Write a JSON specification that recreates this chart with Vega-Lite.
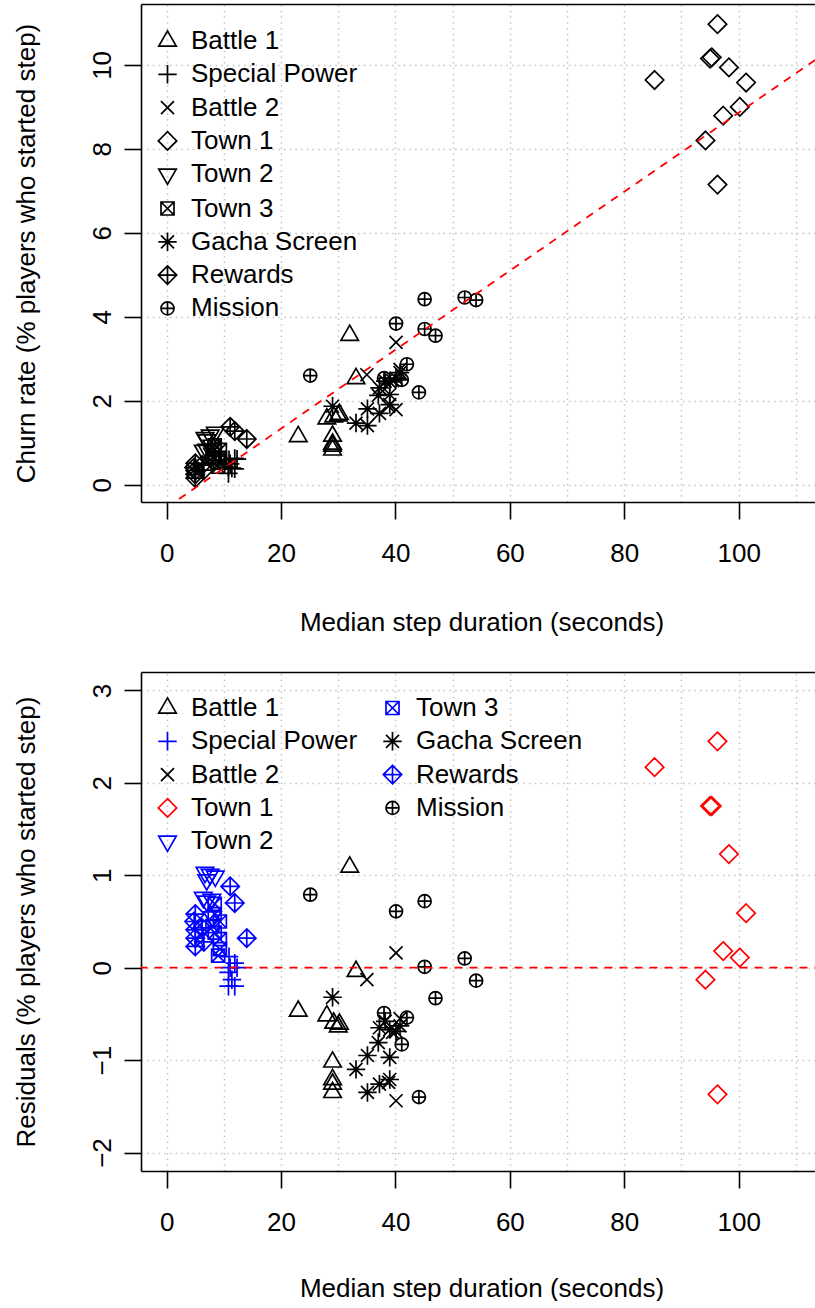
{
  "$schema": "https://vega.github.io/schema/vega-lite/v6.json",
  "padding": {"left": 12, "top": 4, "right": 0, "bottom": 0},
  "background": "white",
  "datasets": {
    "steps": [
      {"step": "Battle 1", "dur": 32.0, "churn": 3.56, "resid": 1.09},
      {"step": "Battle 1", "dur": 33.1, "churn": 2.53, "resid": -0.04},
      {"step": "Battle 1", "dur": 23.0, "churn": 1.15, "resid": -0.47},
      {"step": "Battle 1", "dur": 28.0, "churn": 1.57, "resid": -0.52},
      {"step": "Battle 1", "dur": 29.2, "churn": 1.62, "resid": -0.60},
      {"step": "Battle 1", "dur": 30.2, "churn": 1.68, "resid": -0.61},
      {"step": "Battle 1", "dur": 30.0, "churn": 1.64, "resid": -0.64},
      {"step": "Battle 1", "dur": 29.0, "churn": 1.16, "resid": -1.02},
      {"step": "Battle 1", "dur": 29.0, "churn": 0.97, "resid": -1.21},
      {"step": "Battle 1", "dur": 29.0, "churn": 0.92, "resid": -1.26},
      {"step": "Battle 1", "dur": 29.0, "churn": 0.83, "resid": -1.35},
      {"step": "Special Power", "dur": 10.9, "churn": 0.60, "resid": 0.12},
      {"step": "Special Power", "dur": 11.9, "churn": 0.63, "resid": 0.05},
      {"step": "Special Power", "dur": 11.1, "churn": 0.50, "resid": 0.00},
      {"step": "Special Power", "dur": 12.3, "churn": 0.61, "resid": 0.00},
      {"step": "Special Power", "dur": 10.8, "churn": 0.42, "resid": -0.05},
      {"step": "Special Power", "dur": 11.4, "churn": 0.40, "resid": -0.13},
      {"step": "Special Power", "dur": 10.8, "churn": 0.27, "resid": -0.20},
      {"step": "Special Power", "dur": 11.9, "churn": 0.38, "resid": -0.20},
      {"step": "Battle 2", "dur": 40.1, "churn": 3.39, "resid": 0.16},
      {"step": "Battle 2", "dur": 35.0, "churn": 2.62, "resid": -0.13},
      {"step": "Battle 2", "dur": 38.8, "churn": 1.87, "resid": -1.24},
      {"step": "Battle 2", "dur": 40.1, "churn": 1.79, "resid": -1.44},
      {"step": "Battle 2", "dur": 39.5, "churn": 2.48, "resid": -0.70},
      {"step": "Battle 2", "dur": 40.8, "churn": 2.75, "resid": -0.55},
      {"step": "Town 1", "dur": 96.3, "churn": 10.97, "resid": 2.45},
      {"step": "Town 1", "dur": 95.0, "churn": 10.15, "resid": 1.75},
      {"step": "Town 1", "dur": 95.3, "churn": 10.18, "resid": 1.75},
      {"step": "Town 1", "dur": 98.3, "churn": 9.94, "resid": 1.23},
      {"step": "Town 1", "dur": 85.3, "churn": 9.64, "resid": 2.17},
      {"step": "Town 1", "dur": 101.3, "churn": 9.58, "resid": 0.59},
      {"step": "Town 1", "dur": 100.2, "churn": 9.00, "resid": 0.11},
      {"step": "Town 1", "dur": 97.3, "churn": 8.79, "resid": 0.18},
      {"step": "Town 1", "dur": 94.2, "churn": 8.20, "resid": -0.13},
      {"step": "Town 1", "dur": 96.3, "churn": 7.15, "resid": -1.37},
      {"step": "Town 2", "dur": 6.7, "churn": 1.12, "resid": 1.03},
      {"step": "Town 2", "dur": 7.6, "churn": 1.18, "resid": 1.01},
      {"step": "Town 2", "dur": 8.5, "churn": 1.25, "resid": 0.99},
      {"step": "Town 2", "dur": 7.0, "churn": 1.07, "resid": 0.95},
      {"step": "Town 2", "dur": 6.4, "churn": 0.82, "resid": 0.76},
      {"step": "Town 2", "dur": 7.0, "churn": 0.84, "resid": 0.72},
      {"step": "Town 2", "dur": 7.9, "churn": 0.94, "resid": 0.74},
      {"step": "Town 2", "dur": 8.0, "churn": 0.75, "resid": 0.55},
      {"step": "Town 3", "dur": 8.4, "churn": 0.94, "resid": 0.69},
      {"step": "Town 3", "dur": 8.4, "churn": 0.83, "resid": 0.58},
      {"step": "Town 3", "dur": 9.3, "churn": 0.83, "resid": 0.50},
      {"step": "Town 3", "dur": 8.4, "churn": 0.63, "resid": 0.38},
      {"step": "Town 3", "dur": 9.3, "churn": 0.64, "resid": 0.31},
      {"step": "Town 3", "dur": 9.3, "churn": 0.53, "resid": 0.20},
      {"step": "Town 3", "dur": 9.0, "churn": 0.43, "resid": 0.13},
      {"step": "Town 3", "dur": 8.0, "churn": 0.65, "resid": 0.45},
      {"step": "Gacha Screen", "dur": 29.0, "churn": 1.87, "resid": -0.32},
      {"step": "Gacha Screen", "dur": 35.1, "churn": 1.81, "resid": -0.95},
      {"step": "Gacha Screen", "dur": 33.1, "churn": 1.47, "resid": -1.10},
      {"step": "Gacha Screen", "dur": 35.1, "churn": 1.41, "resid": -1.35},
      {"step": "Gacha Screen", "dur": 37.0, "churn": 2.13, "resid": -0.81},
      {"step": "Gacha Screen", "dur": 37.2, "churn": 2.31, "resid": -0.65},
      {"step": "Gacha Screen", "dur": 39.0, "churn": 2.15, "resid": -0.97},
      {"step": "Gacha Screen", "dur": 39.0, "churn": 1.91, "resid": -1.21},
      {"step": "Gacha Screen", "dur": 37.2, "churn": 1.70, "resid": -1.26},
      {"step": "Gacha Screen", "dur": 39.0, "churn": 2.45, "resid": -0.67},
      {"step": "Gacha Screen", "dur": 40.1, "churn": 2.54, "resid": -0.69},
      {"step": "Gacha Screen", "dur": 40.8, "churn": 2.67, "resid": -0.63},
      {"step": "Gacha Screen", "dur": 38.2, "churn": 2.47, "resid": -0.58},
      {"step": "Rewards", "dur": 11.1, "churn": 1.38, "resid": 0.88},
      {"step": "Rewards", "dur": 11.9, "churn": 1.28, "resid": 0.70},
      {"step": "Rewards", "dur": 14.0, "churn": 1.09, "resid": 0.32},
      {"step": "Rewards", "dur": 5.0, "churn": 0.51, "resid": 0.58},
      {"step": "Rewards", "dur": 4.8, "churn": 0.41, "resid": 0.50},
      {"step": "Rewards", "dur": 5.0, "churn": 0.34, "resid": 0.41},
      {"step": "Rewards", "dur": 5.0, "churn": 0.25, "resid": 0.32},
      {"step": "Rewards", "dur": 5.0, "churn": 0.16, "resid": 0.23},
      {"step": "Rewards", "dur": 6.2, "churn": 0.47, "resid": 0.43},
      {"step": "Rewards", "dur": 6.5, "churn": 0.35, "resid": 0.28},
      {"step": "Mission", "dur": 25.1, "churn": 2.60, "resid": 0.79},
      {"step": "Mission", "dur": 40.1, "churn": 3.84, "resid": 0.61},
      {"step": "Mission", "dur": 45.1, "churn": 4.42, "resid": 0.72},
      {"step": "Mission", "dur": 52.1, "churn": 4.46, "resid": 0.10},
      {"step": "Mission", "dur": 54.1, "churn": 4.40, "resid": -0.14},
      {"step": "Mission", "dur": 45.1, "churn": 3.71, "resid": 0.01},
      {"step": "Mission", "dur": 47.0, "churn": 3.55, "resid": -0.33},
      {"step": "Mission", "dur": 42.0, "churn": 2.87, "resid": -0.54},
      {"step": "Mission", "dur": 44.1, "churn": 2.20, "resid": -1.40},
      {"step": "Mission", "dur": 38.0, "churn": 2.54, "resid": -0.49},
      {"step": "Mission", "dur": 41.1, "churn": 2.50, "resid": -0.83}
    ],
    "fitTop": [
      {"dur": 0, "churn": -0.543},
      {"dur": 120, "churn": 10.74}
    ],
    "zero": [
      {"dur": -10, "resid": 0},
      {"dur": 130, "resid": 0}
    ]
  },
  "vconcat": [
    {
      "width": 674,
      "height": 498,
      "layer": [
        {
          "data": {"name": "steps"},
          "mark": {"type": "point", "filled": false, "strokeWidth": 1.7, "size": 169, "opacity": 1, "clip": true, "color": "black"},
          "encoding": {
            "x": {"field": "dur", "type": "quantitative",
              "scale": {"domain": [-4.49, 113.35], "nice": false, "zero": false},
              "axis": {"orient": "bottom", "values": [0, 20, 40, 60, 80, 100], "grid": false,
                "labelBaseline": "alphabetic", "labelPadding": 42,
                "title": "Median step duration (seconds)", "titleX": 340.5, "titleY": 128,
                "titleBaseline": "alphabetic", "titleAlign": "center", "titleAnchor": null}},
            "y": {"field": "churn", "type": "quantitative",
              "scale": {"domain": [-0.41, 11.45], "nice": false, "zero": false},
              "axis": {"values": [0, 2, 4, 6, 8, 10], "format": "d", "grid": true, "labelAngle": 270,
                "labelAlign": "center", "labelBaseline": "alphabetic", "labelPadding": 14,
                "title": "Churn rate (% players who started step)", "titleAngle": 270,
                "titleX": -107, "titleY": 249, "titleBaseline": "alphabetic", "titleAlign": "center"}},
            "shape": {"field": "step", "type": "nominal",
              "scale": {
                "domain": ["Battle 1", "Special Power", "Battle 2", "Town 1", "Town 2", "Town 3", "Gacha Screen", "Rewards", "Mission"],
                "range": [
                  "M0,-1.5551L1.3468,0.7776L-1.3468,0.7776Z",
                  "M-1.4142,0L1.4142,0M0,-1.4142L0,1.4142",
                  "M-1,-1L1,1M-1,1L1,-1",
                  "M0,-1.4142L1.4142,0L0,1.4142L-1.4142,0Z",
                  "M0,1.5551L1.3468,-0.7776L-1.3468,-0.7776Z",
                  "M-1,-1L1,-1L1,1L-1,1ZM-1,-1L1,1M-1,1L1,-1",
                  "M-1,-1L1,1M-1,1L1,-1M-1.4142,0L1.4142,0M0,-1.4142L0,1.4142",
                  "M0,-1.4142L1.4142,0L0,1.4142L-1.4142,0ZM-1.4142,0L1.4142,0M0,-1.4142L0,1.4142",
                  "M-1,0A1,1 0 1,0 1,0A1,1 0 1,0 -1,0ZM-1,0L1,0M0,-1L0,1"
                ]},
              "legend": {"title": null, "orient": "none", "legendX": 13.5, "legendY": 24, "direction": "vertical",
                "padding": 0, "labelFont": "Liberation Sans", "labelFontSize": 26, "labelColor": "black",
                "labelOffset": 10.5, "rowPadding": 7.3, "symbolSize": 169, "symbolStrokeWidth": 1.7,
                "symbolStrokeColor": "black", "symbolFillColor": "transparent", "labelLimit": 400}}
          }
        },
        {
          "data": {"name": "fitTop"},
          "mark": {"type": "line", "color": "red", "strokeWidth": 1.8, "strokeDash": [8, 7], "clip": true},
          "encoding": {
            "x": {"field": "dur", "type": "quantitative",
              "scale": {"domain": [-4.49, 113.35], "nice": false, "zero": false},
              "axis": {"orient": "top", "values": [0, 10, 20, 30, 40, 50, 60, 70, 80, 90, 100, 110],
                "grid": true, "ticks": false, "labels": false, "domain": true, "title": null}},
            "y": {"field": "churn", "type": "quantitative",
              "scale": {"domain": [-0.41, 11.45], "nice": false, "zero": false}}
          }
        }
      ],
      "resolve": {"axis": {"x": "independent"}}
    },
    {
      "width": 674,
      "height": 499,
      "layer": [
        {
          "data": {"name": "steps"},
          "mark": {"type": "point", "filled": false, "strokeWidth": 1.7, "size": 169, "opacity": 1, "clip": true},
          "encoding": {
            "x": {"field": "dur", "type": "quantitative",
              "scale": {"domain": [-4.49, 113.35], "nice": false, "zero": false},
              "axis": {"orient": "bottom", "values": [0, 20, 40, 60, 80, 100], "grid": false,
                "labelBaseline": "alphabetic", "labelPadding": 42,
                "title": "Median step duration (seconds)", "titleX": 340.5, "titleY": 125,
                "titleBaseline": "alphabetic", "titleAlign": "center", "titleAnchor": null}},
            "y": {"field": "resid", "type": "quantitative",
              "scale": {"domain": [-2.2, 3.2], "nice": false, "zero": false},
              "axis": {"values": [-2, -1, 0, 1, 2, 3], "format": "d", "grid": true, "labelAngle": 270,
                "labelAlign": "center", "labelBaseline": "alphabetic", "labelPadding": 14,
                "title": "Residuals (% players who started step)", "titleAngle": 270,
                "titleX": -107, "titleY": 249.5, "titleBaseline": "alphabetic", "titleAlign": "center"}},
            "shape": {"field": "step", "type": "nominal",
              "scale": {
                "domain": ["Battle 1", "Special Power", "Battle 2", "Town 1", "Town 2", "Town 3", "Gacha Screen", "Rewards", "Mission"],
                "range": [
                  "M0,-1.5551L1.3468,0.7776L-1.3468,0.7776Z",
                  "M-1.4142,0L1.4142,0M0,-1.4142L0,1.4142",
                  "M-1,-1L1,1M-1,1L1,-1",
                  "M0,-1.4142L1.4142,0L0,1.4142L-1.4142,0Z",
                  "M0,1.5551L1.3468,-0.7776L-1.3468,-0.7776Z",
                  "M-1,-1L1,-1L1,1L-1,1ZM-1,-1L1,1M-1,1L1,-1",
                  "M-1,-1L1,1M-1,1L1,-1M-1.4142,0L1.4142,0M0,-1.4142L0,1.4142",
                  "M0,-1.4142L1.4142,0L0,1.4142L-1.4142,0ZM-1.4142,0L1.4142,0M0,-1.4142L0,1.4142",
                  "M-1,0A1,1 0 1,0 1,0A1,1 0 1,0 -1,0ZM-1,0L1,0M0,-1L0,1"
                ]},
              "legend": {"title": null, "orient": "none", "legendX": 13.5, "legendY": 23, "direction": "vertical", "columns": 2,
                "columnPadding": 22, "padding": 0, "labelFont": "Liberation Sans", "labelFontSize": 26, "labelColor": "black",
                "labelOffset": 10.5, "rowPadding": 7.3, "symbolSize": 169, "symbolStrokeWidth": 1.7,
                "symbolFillColor": "transparent", "labelLimit": 400}},
            "color": {"field": "step", "type": "nominal",
              "scale": {
                "domain": ["Battle 1", "Special Power", "Battle 2", "Town 1", "Town 2", "Town 3", "Gacha Screen", "Rewards", "Mission"],
                "range": ["black", "blue", "black", "red", "blue", "blue", "black", "blue", "black"]},
              "legend": {"title": null, "orient": "none", "legendX": 13.5, "legendY": 23, "direction": "vertical", "columns": 2,
                "columnPadding": 22, "padding": 0, "labelFont": "Liberation Sans", "labelFontSize": 26, "labelColor": "black",
                "labelOffset": 10.5, "rowPadding": 7.3, "symbolSize": 169, "symbolStrokeWidth": 1.7,
                "symbolFillColor": "transparent", "labelLimit": 400}}
          }
        },
        {
          "data": {"name": "zero"},
          "mark": {"type": "line", "color": "red", "strokeWidth": 1.8, "strokeDash": [8, 7], "clip": true},
          "encoding": {
            "x": {"field": "dur", "type": "quantitative",
              "scale": {"domain": [-4.49, 113.35], "nice": false, "zero": false},
              "axis": {"orient": "top", "values": [0, 10, 20, 30, 40, 50, 60, 70, 80, 90, 100, 110],
                "grid": true, "ticks": false, "labels": false, "domain": true, "title": null}},
            "y": {"field": "resid", "type": "quantitative",
              "scale": {"domain": [-2.2, 3.2], "nice": false, "zero": false}}
          }
        }
      ],
      "resolve": {"axis": {"x": "independent"}}
    }
  ],
  "spacing": 170,
  "bounds": "flush",
  "resolve": {
    "scale": {"shape": "independent", "color": "independent"},
    "legend": {"shape": "independent", "color": "independent"}
  },
  "config": {
    "font": "Liberation Sans",
    "view": {"stroke": null},
    "axis": {
      "labelFont": "Liberation Sans", "labelFontSize": 26, "labelColor": "black",
      "titleFont": "Liberation Sans", "titleFontSize": 26, "titleFontWeight": "normal", "titleColor": "black",
      "tickColor": "black", "tickWidth": 1.6, "tickSize": 17,
      "domainColor": "black", "domainWidth": 1.6,
      "gridColor": "#c4c4c4", "gridDash": [1.5, 4.2], "gridWidth": 1.5, "gridOpacity": 1,
      "labelFlush": false, "labelOverlap": false
    }
  }
}
